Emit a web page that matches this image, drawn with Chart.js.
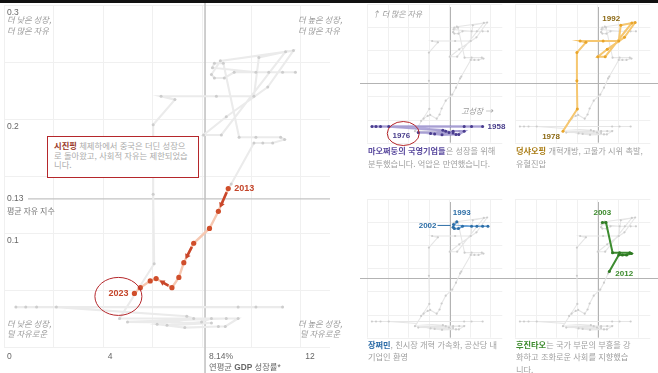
<!DOCTYPE html>
<html lang="ko">
<head>
<meta charset="utf-8">
<script src="https://cdn.jsdelivr.net/npm/chart.js@4.4.1/dist/chart.umd.min.js"></script>
<style>
  html, body { margin: 0; padding: 0; background: #fff; }
  body { width: 658px; height: 373px; position: relative; overflow: hidden; }
  canvas { position: absolute; }
  #topbar { position: absolute; left: 0; top: 0; width: 658px; height: 3px; background: #111; z-index: 9; }
  .cap { position: absolute; z-index: 5; font-family: "Noto Sans CJK KR", sans-serif; font-size: 8.2px; color: #a0a0a0; white-space: nowrap; }
  .cap b { font-weight: 700; }
  #note { position: absolute; z-index: 5; left: 47px; top: 136px; width: 152px; height: 42px; box-sizing: border-box;
          border: 1.5px solid #b5272b; background: #fff; padding: 4px 0 0 6px;
          font-family: "Noto Sans CJK KR", sans-serif; font-size: 8.3px; line-height: 9.7px; color: #ababab; white-space: nowrap; }
  #note b { color: #9b3a2b; }
</style>
</head>
<body>
<div id="topbar"></div>
<canvas id="mainChart" width="358" height="373" style="left:0;top:0"></canvas>
<canvas id="maoChart" width="150" height="148" style="left:360px;top:0"></canvas>
<canvas id="dengChart" width="150" height="148" style="left:508px;top:0"></canvas>
<canvas id="jiangChart" width="150" height="148" style="left:360px;top:195px"></canvas>
<canvas id="huChart" width="150" height="148" style="left:508px;top:195px"></canvas>

<div id="note"><b>시진핑</b> 체제하에서 중국은 더딘 성장으<br>로 돌아왔고, 사회적 자유는 제한되었습<br>니다.</div>
<div class="cap" style="left:368px;top:143.5px;line-height:13px"><b style="color:#5b4b9f">마오쩌둥의 국영기업들</b>은 성장을 위해<br>분투했습니다. 억압은 만연했습니다.</div>
<div class="cap" style="left:516px;top:143.5px;line-height:13px"><b style="color:#a97b12">덩샤오핑</b> 개혁개방, 고물가 시위 촉발,<br>유혈진압</div>
<div class="cap" style="left:368px;top:337.5px;line-height:12.5px"><b style="color:#2f6ea8">장쩌민</b>, 친시장 개혁 가속화, 공산당 내<br>기업인 환영</div>
<div class="cap" style="left:516px;top:337.5px;line-height:12.5px"><b style="color:#3b8a2c">후진타오</b>는 국가 부문의 부흥을 강<br>화하고 조화로운 사회를 지향했습<br>니다.</div>

<script>
// 연도별 궤적 (x: 연평균 GDP 성장률 %, y: 자유 지수)
const years = [1958, 1959, 1960, 1961, 1962, 1963, 1964, 1965, 1966, 1967,
  1968, 1969, 1970, 1971, 1972, 1973, 1974, 1975, 1976, 1977,
  1978, 1979, 1980, 1981, 1982, 1983, 1984, 1985, 1986, 1987,
  1988, 1989, 1990, 1991, 1992, 1993, 1994, 1995, 1996, 1997,
  1998, 1999, 2000, 2001, 2002, 2003, 2004, 2005, 2006, 2007,
  2008, 2009, 2010, 2011, 2012, 2013, 2014, 2015, 2016, 2017,
  2018, 2019, 2020, 2021, 2022, 2023];
const gdpGrowth = [11.28, 10.2, 9.48, 0.48, 0.88, 1.32, 2.12, 7.4, 7.68, 6.2,
  7.32, 8.68, 8.96, 9.48, 8.4, 8.0, 6.6, 8.4, 5.0, 9.0,
  4.68, 6.08, 6.04, 6.04, 6.92, 6.36, 8.6, 10.12, 10.32, 11.4,
  8.8, 8.08, 9.0, 10.68, 11.72, 8.76, 8.4, 8.52, 8.92, 9.32,
  10.72, 11.8, 11.28, 10.2, 8.44, 8.52, 8.88, 9.52, 10.2, 11.2,
  11.36, 10.88, 10.48, 10.12, 9.2, 9.08, 8.68, 8.32, 7.68, 7.28,
  7.08, 6.8, 6.16, 5.92, 5.52, 5.28];
const freedomIndex = [0.035, 0.035, 0.035, 0.035, 0.035, 0.035, 0.035, 0.027, 0.025, 0.020,
  0.017, 0.018, 0.018, 0.025, 0.025, 0.022, 0.019, 0.021, 0.022, 0.025,
  0.025, 0.073, 0.134, 0.195, 0.217, 0.220, 0.220, 0.220, 0.254, 0.259,
  0.186, 0.186, 0.202, 0.228, 0.260, 0.251, 0.239, 0.236, 0.236, 0.241,
  0.241, 0.241, 0.241, 0.241, 0.245, 0.249, 0.249, 0.184, 0.184, 0.184,
  0.182, 0.179, 0.179, 0.179, 0.143, 0.139, 0.119, 0.104, 0.091, 0.074,
  0.061, 0.052, 0.060, 0.058, 0.052, 0.047];

const avgGrowth = 8.14;
const avgFreedom = 0.13;
const xTickValues = [0, 4, 8.14, 12];
const xTickLabels = ["0", "4", "8.14%", "12"];
const yTickValues = [0.3, 0.2, 0.1];
const yTickLabels = ["0.3", "0.2", "0.1"];

const eraStart = [1958, 1978, 1993, 2003];
const eraEnd = [1976, 1992, 2002, 2012];
const xiStart = 2013, xiEnd = 2023;
const xiArrowYears = [2013, 2016, 2019];

const LAT = '"Liberation Sans", "Noto Sans CJK KR", sans-serif';
const KR = '"Noto Sans CJK KR", sans-serif';

function pathPoints(from, to) {
    const pts = [];
    years.forEach((yr, i) => {
        if (yr >= from && yr <= to) pts.push({ x: gdpGrowth[i], y: freedomIndex[i] });
    });
    return pts;
}

function line(ctx, x1, y1, x2, y2) {
    ctx.beginPath(); ctx.moveTo(x1, y1); ctx.lineTo(x2, y2); ctx.stroke();
}

function text(ctx, s, x, y, font, color, align) {
    ctx.font = font;
    ctx.fillStyle = color;
    ctx.textAlign = align || "left";
    ctx.textBaseline = "middle";
    ctx.fillText(s, x, y);
}

function drawGrid(chart, color) {
    const { ctx, chartArea: a, scales: { x, y } } = chart;
    ctx.save();
    ctx.strokeStyle = color; ctx.lineWidth = 1;
    for (let v = 0; v <= 13.2; v += 2) {
        const px = Math.round(x.getPixelForValue(v)) + 0.5;
        line(ctx, px, a.top, px, a.bottom);
    }
    for (let v = 0; v <= 0.3001; v += 0.05) {
        const py = Math.round(y.getPixelForValue(v)) + 0.5;
        line(ctx, a.left, py, a.right, py);
    }
    ctx.restore();
}

function drawArrow(ctx, p0, p1, color) {
    const dx = p1.x - p0.x, dy = p1.y - p0.y, len = Math.hypot(dx, dy);
    const ux = dx / len, uy = dy / len;
    const sx = p0.x + ux * 4, sy = p0.y + uy * 4;
    const ex = p1.x - ux * 4, ey = p1.y - uy * 4;
    ctx.strokeStyle = color; ctx.fillStyle = color; ctx.lineWidth = 2.6;
    line(ctx, sx, sy, ex - ux * 3, ey - uy * 3);
    ctx.beginPath();
    ctx.moveTo(ex, ey);
    ctx.lineTo(ex - ux * 5 - uy * 3, ey - uy * 5 + ux * 3);
    ctx.lineTo(ex - ux * 5 + uy * 3, ey - uy * 5 - ux * 3);
    ctx.closePath(); ctx.fill();
}

const baseOptions = (padding) => ({
    responsive: false,
    animation: false,
    events: [],
    layout: { padding },
    scales: {
        x: { type: "linear", min: 0, max: 13.2, display: false },
        y: { type: "linear", min: 0, max: 0.3, display: false }
    },
    plugins: { legend: { display: false }, tooltip: { enabled: false } }
});

// 메인 차트
const mainDecor = {
    id: "mainDecor",
    beforeDatasetsDraw(chart) {
        const { ctx, chartArea: a, scales: { x, y } } = chart;
        drawGrid(chart, "#f0f0f0");
        ctx.save();
        ctx.strokeStyle = "#c3c3c3"; ctx.lineWidth = 1.6;
        const ax = x.getPixelForValue(avgGrowth);
        line(ctx, ax, 3, ax, chart.height);
        ctx.lineWidth = 1.3;
        const ay = y.getPixelForValue(avgFreedom);
        line(ctx, 28, ay, a.right, ay);
        ctx.restore();
    },
    afterDatasetsDraw(chart) {
        const { ctx, chartArea: a, scales: { x, y } } = chart;
        ctx.save();
        const xi = chart.getDatasetMeta(0).data;
        xiArrowYears.forEach(yr => {
            const i = yr - xiStart;
            drawArrow(ctx, xi[i], xi[i + 1], "#c9462a");
        });
        // 연도 라벨
        const p13 = xi[0], p23 = xi[xi.length - 1];
        text(ctx, "2013", p13.x + 6, p13.y, "bold 9px " + LAT, "#c4452a");
        text(ctx, "2023", p23.x - 6, p23.y, "bold 9px " + LAT, "#c4452a", "right");
        ctx.strokeStyle = "#b5272b"; ctx.lineWidth = 1;
        ctx.beginPath();
        ctx.ellipse(p23.x - 16, p23.y + 3, 23.5, 19, 0, 0, Math.PI * 2);
        ctx.stroke();

        // 축 라벨
        const tickFont = "8.5px " + LAT;
        yTickValues.forEach((v, i) => text(ctx, yTickLabels[i], 7, y.getPixelForValue(v) + 8, tickFont, "#666"));
        text(ctx, "0.13", 7, y.getPixelForValue(avgFreedom), tickFont, "#666");
        text(ctx, "평균 자유 지수", 7, y.getPixelForValue(avgFreedom) + 12, "8px " + KR, "#777");
        xTickValues.forEach((v, i) => {
            const px = v === 0 ? 7 : x.getPixelForValue(v) + (v === avgGrowth ? 4 : 5);
            text(ctx, xTickLabels[i], px, 357, tickFont, "#666");
        });
        // 축 제목
        let tx = x.getPixelForValue(avgGrowth) + 4;
        const parts = [["연평균 ", "8.3px "], ["GDP", "bold 8.3px "], [" 성장률*", "8.3px "]];
        parts.forEach(([s, f]) => {
            text(ctx, s, tx, 368, f + LAT, "#666");
            tx += ctx.measureText(s).width;
        });
        // 사분면 라벨
        const qf = "italic 8.3px " + KR, qc = "#9c9c9c";
        text(ctx, "더 낮은 성장,", 7, a.top + 15, qf, qc);
        text(ctx, "더 많은 자유", 7, a.top + 26, qf, qc);
        text(ctx, "더 높은 성장,", a.right - 32, a.top + 15, qf, qc);
        text(ctx, "더 많은 자유", a.right - 32, a.top + 26, qf, qc);
        text(ctx, "더 낮은 성장,", 7, a.bottom - 23, qf, qc);
        text(ctx, "덜 자유로운", 7, a.bottom - 13, qf, qc);
        text(ctx, "더 높은 성장,", a.right - 32, a.bottom - 23, qf, qc);
        text(ctx, "덜 자유로운", a.right - 30, a.bottom - 13, qf, qc);
        ctx.restore();
    }
};

new Chart(document.getElementById("mainChart"), {
    type: "scatter",
    data: {
        datasets: [
            { data: pathPoints(xiStart, xiEnd), showLine: true, borderColor: "#f6c8b2", borderWidth: 2.4,
              pointRadius: 2.6, pointBackgroundColor: "#d04e2b", pointBorderWidth: 0, order: 0 },
            { data: pathPoints(years[0], xiStart), showLine: true, borderColor: "#ebebeb", borderWidth: 2.1,
              pointRadius: 1.5, pointBackgroundColor: "#cdcdcd", pointBorderWidth: 0, order: 1 }
        ]
    },
    options: baseOptions({ left: 0, top: 5, right: 28, bottom: 26 }),
    plugins: [mainDecor]
});

// 작은 패널
function makePanel(id, era, style, drawLabels) {
    return new Chart(document.getElementById(id), {
        type: "scatter",
        data: {
            datasets: [
                { data: pathPoints(eraStart[era], eraEnd[era]), showLine: true, borderColor: style.line, borderWidth: style.width,
                  pointRadius: 1.5, pointBackgroundColor: style.dot, pointBorderWidth: 0, order: 0 },
                { data: pathPoints(years[0], years[years.length - 1]), showLine: true, borderColor: "#e6e6e6", borderWidth: 1.1,
                  pointRadius: 1.1, pointBackgroundColor: "#cccccc", pointBorderWidth: 0, order: 1 }
            ]
        },
        options: baseOptions({ left: 7, top: 2.5, right: 7.7, bottom: 5.3 }),
        plugins: [{
            id: "panelDecor",
            beforeDatasetsDraw(chart) {
                const { ctx, chartArea: a, scales: { x, y } } = chart;
                drawGrid(chart, "#f0f0f0");
                ctx.save();
                ctx.strokeStyle = "#b3b3b3"; ctx.lineWidth = 1;
                const ax = Math.round(x.getPixelForValue(avgGrowth)) + 0.5;
                const ay = Math.round(y.getPixelForValue(avgFreedom)) + 0.5;
                line(ctx, ax, a.top + 3, ax, a.bottom);
                line(ctx, 0, ay, chart.width, ay);
                ctx.restore();
            },
            afterDatasetsDraw(chart) {
                const ctx = chart.ctx;
                ctx.save();
                drawLabels(ctx, chart.getDatasetMeta(0).data, chart);
                ctx.restore();
            }
        }]
    });
}

const smallFont = "bold 8px " + LAT;

makePanel("maoChart", 0, { line: "rgba(125,112,195,0.6)", width: 2.4, dot: "#4a3d8f" }, (ctx, pts) => {
    const first = pts[0], last = pts[pts.length - 1];
    text(ctx, "1958", first.x + 5, first.y + 0.5, smallFont, "#4a3f8c");
    text(ctx, "1976", last.x - 8, last.y + 3, smallFont, "#4a3f8c", "right");
    ctx.strokeStyle = "#b5272b"; ctx.lineWidth = 1;
    ctx.beginPath(); ctx.ellipse(last.x - 15, last.y + 1, 16, 12, 0, 0, Math.PI * 2); ctx.stroke();
    text(ctx, "↑ 더 많은 자유", 12, 14, "italic 8px " + KR, "#9a9a9a");
    text(ctx, "고성장 →", 133, 111, "italic 8px " + KR, "#9a9a9a", "right");
});

makePanel("dengChart", 1, { line: "#f6c770", width: 2, dot: "#e9a52a" }, (ctx, pts) => {
    const first = pts[0], last = pts[pts.length - 1];
    text(ctx, "1978", first.x - 3, first.y + 6, smallFont, "#8c6914", "right");
    text(ctx, "1992", last.x - 15, last.y - 4, smallFont, "#8c6914", "right");
});

makePanel("jiangChart", 2, { line: "#6aa3d8", width: 1.6, dot: "#2d6ea6" }, (ctx, pts) => {
    const first = pts[0], last = pts[pts.length - 1];
    text(ctx, "1993", first.x - 4, first.y - 9, smallFont, "#2d6ea6");
    text(ctx, "2002", last.x - 17, last.y + 1, smallFont, "#2d6ea6", "right");
    ctx.strokeStyle = "#2d6ea6"; ctx.lineWidth = 1;
    line(ctx, last.x - 16, last.y + 1, last.x - 3, last.y + 1);
});

makePanel("huChart", 3, { line: "#3d8c30", width: 2, dot: "#2e7a23" }, (ctx, pts) => {
    const first = pts[0], last = pts[pts.length - 1];
    text(ctx, "2003", first.x, first.y - 10, smallFont, "#3b8a2c", "center");
    text(ctx, "2012", last.x + 6, last.y + 2, smallFont, "#3b8a2c");
});
</script>
</body>
</html>
